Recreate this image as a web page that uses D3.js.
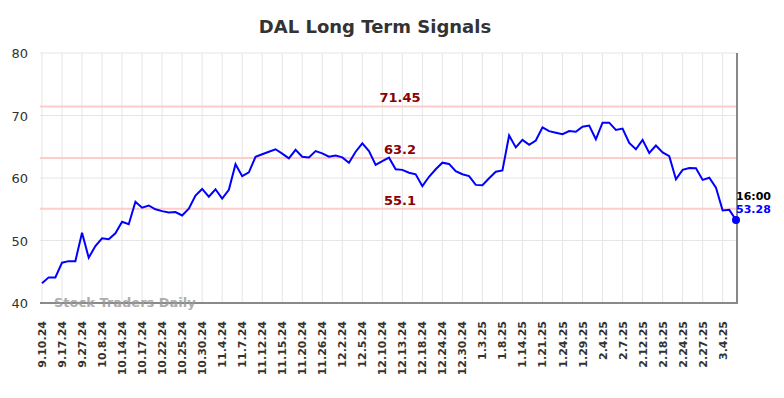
<!DOCTYPE html>
<html>
<head>
<meta charset="utf-8">
<script src="https://cdn.jsdelivr.net/npm/d3@7"></script>
<style>
  body { margin: 0; background: #fff; }
  text { font-family: "DejaVu Sans", sans-serif; }
</style>
</head>
<body>
<script>
// signal values, one per trading day
var values = [43.15, 44.1, 44.1, 46.45, 46.7, 46.7, 51.25, 47.25, 49.1, 50.35,
  50.2, 51.15, 53.0, 52.6, 56.2, 55.25, 55.6, 55.0, 54.7, 54.5,
  54.55, 54.0, 55.1, 57.2, 58.25, 57.0, 58.2, 56.7, 58.1, 62.2,
  60.3, 60.9, 63.4, 63.8, 64.2, 64.6, 63.9, 63.15, 64.5, 63.4,
  63.3, 64.3, 63.95, 63.4, 63.6, 63.3, 62.45, 64.2, 65.55, 64.3,
  62.1, 62.7, 63.25, 61.4, 61.3, 60.85, 60.6, 58.7, 60.2, 61.4,
  62.45, 62.25, 61.1, 60.6, 60.3, 58.9, 58.85, 59.95, 61.0, 61.2,
  66.8, 64.9, 66.1, 65.3, 66.0, 68.1, 67.5, 67.25, 67.0, 67.5,
  67.4, 68.2, 68.4, 66.2, 68.85, 68.85, 67.7, 67.9, 65.6, 64.6,
  66.1, 64.0, 65.2, 64.1, 63.5, 59.8, 61.3, 61.6, 61.55, 59.7,
  60.05, 58.45, 54.8, 54.9, 53.28];

// one label every third point
var tickLabels = ["9.10.24", "9.17.24", "9.27.24", "10.8.24", "10.14.24", "10.17.24",
  "10.22.24", "10.25.24", "10.30.24", "11.4.24", "11.7.24", "11.12.24", "11.15.24",
  "11.20.24", "11.26.24", "12.2.24", "12.5.24", "12.10.24", "12.13.24", "12.18.24",
  "12.24.24", "12.30.24", "1.3.25", "1.8.25", "1.14.25", "1.21.25", "1.24.25",
  "1.29.25", "2.4.25", "2.7.25", "2.12.25", "2.18.25", "2.24.25", "2.27.25", "3.4.25"];
var tickStep = 3;

var levels = [71.45, 63.2, 55.1];
var yTicks = [40, 50, 60, 70, 80];
var lastTime = "16:00";

var W = 784, H = 398;
var m = { left: 42, right: 737, top: 53, bottom: 303 };

var svg = d3.select("body").append("svg")
  .attr("width", W).attr("height", H);

var x = d3.scaleLinear().domain([0, values.length - 1]).range([m.left, m.right - 1]);
var y = d3.scaleLinear().domain([40, 80]).range([m.bottom, m.top]);

svg.append("text")
  .attr("x", 375).attr("y", 33)
  .attr("text-anchor", "middle")
  .style("font-size", "18px").style("font-weight", "bold")
  .style("fill", "#333")
  .text("DAL Long Term Signals");

// grid
var tickIdx = tickLabels.map(function (d, i) { return i * tickStep; });
svg.append("g").selectAll("line")
  .data(tickIdx).enter().append("line")
  .attr("x1", function (d) { return x(d); }).attr("x2", function (d) { return x(d); })
  .attr("y1", m.top).attr("y2", m.bottom)
  .attr("stroke", "#e6e6e6").attr("stroke-width", 1);

svg.append("g").selectAll("line")
  .data(yTicks).enter().append("line")
  .attr("x1", m.left - 2).attr("x2", m.right)
  .attr("y1", function (d) { return y(d); }).attr("y2", function (d) { return y(d); })
  .attr("stroke", "#e6e6e6").attr("stroke-width", 1);

// y axis labels
svg.append("g").selectAll("text")
  .data(yTicks).enter().append("text")
  .attr("x", 28).attr("y", function (d) { return y(d) + 5; })
  .attr("text-anchor", "end")
  .style("font-size", "13px").style("fill", "#333")
  .text(function (d) { return d; });

// x axis labels
svg.append("g").selectAll("text")
  .data(tickLabels).enter().append("text")
  .attr("transform", function (d, i) {
    return "translate(" + (x(i * tickStep) + 4) + ",321) rotate(-90)";
  })
  .attr("text-anchor", "end")
  .style("font-size", "11px").style("font-weight", "bold").style("fill", "#333")
  .text(function (d) { return d; });

// levels
svg.append("g").selectAll("line")
  .data(levels).enter().append("line")
  .attr("x1", m.left - 2).attr("x2", m.right)
  .attr("y1", function (d) { return y(d); }).attr("y2", function (d) { return y(d); })
  .attr("stroke", "#ffcccc").attr("stroke-width", 2);

svg.append("g").selectAll("text")
  .data(levels).enter().append("text")
  .attr("x", 400).attr("y", function (d) { return y(d) - 4; })
  .attr("text-anchor", "middle")
  .style("font-size", "13px").style("font-weight", "bold").style("fill", "#8b0000")
  .text(function (d) { return d; });

// axes lines
svg.append("line")
  .attr("x1", m.left - 2).attr("x2", m.right + 1)
  .attr("y1", m.bottom).attr("y2", m.bottom)
  .attr("stroke", "#666").attr("stroke-width", 1.5);
svg.append("line")
  .attr("x1", m.right).attr("x2", m.right)
  .attr("y1", m.top).attr("y2", m.bottom)
  .attr("stroke", "#888").attr("stroke-width", 2);

svg.append("text")
  .attr("x", 54).attr("y", 307)
  .style("font-size", "13px").style("font-weight", "bold")
  .style("fill", "#999").style("opacity", 0.8)
  .text("Stock Traders Daily");

var line = d3.line()
  .x(function (d, i) { return x(i); })
  .y(function (d) { return y(d); });

svg.append("path")
  .datum(values)
  .attr("d", line)
  .attr("fill", "none")
  .attr("stroke", "#0000ff")
  .attr("stroke-width", 2);

var last = values.length - 1;
svg.append("circle")
  .attr("cx", x(last)).attr("cy", y(values[last]))
  .attr("r", 4).attr("fill", "#0000ff");

svg.append("text")
  .attr("x", x(last)).attr("y", 200)
  .style("font-size", "11px").style("font-weight", "bold").style("fill", "#000")
  .text(lastTime);
svg.append("text")
  .attr("x", x(last)).attr("y", 213)
  .style("font-size", "11px").style("font-weight", "bold").style("fill", "#0000ff")
  .text(values[last]);
</script>
</body>
</html>
